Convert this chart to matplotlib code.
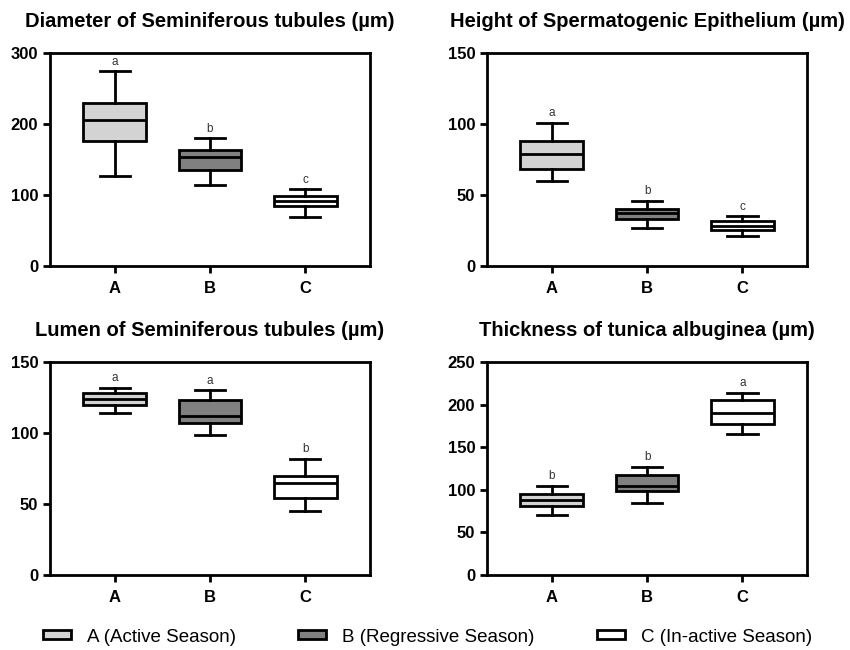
import matplotlib.pyplot as plt
from matplotlib.patches import Patch

plt.rcParams['font.family'] = ['Liberation Sans', 'DejaVu Sans']

groups = ['A', 'B', 'C']
fills = ['#d3d3d3', '#808080', '#ffffff']
legend_labels = ['A (Active Season)', 'B (Regressive Season)', 'C (In-active Season)']

titles = ['Diameter of Seminiferous tubules (µm)',
          'Height of Spermatogenic Epithelium (µm)',
          'Lumen of Seminiferous tubules (µm)',
          'Thickness of tunica albuginea (µm)']
ymax = [300, 150, 150, 250]
ystep = [100, 50, 50, 50]

# whisker low, Q1, median, Q3, whisker high  for A, B, C
diameter = [[127, 176, 206, 230, 274], [114, 135, 153, 163, 180], [69, 84, 91, 98, 108]]
height = [[60, 68, 79, 88, 101], [27, 33, 37, 40, 46], [21, 25, 28.5, 32, 35]]
lumen = [[114, 120, 124, 128, 132], [98.5, 107, 112, 123, 130], [45, 54.5, 65, 70, 82]]
tunica = [[70, 81, 88, 95, 105], [85, 98, 105, 117, 127], [165, 177, 190, 205, 214]]
letters = [['a', 'b', 'c'], ['a', 'b', 'c'], ['a', 'a', 'b'], ['b', 'b', 'a']]

panels = [diameter, height, lumen, tunica]
positions = [[0.0588, 0.5908], [0.573, 0.5908], [0.0588, 0.1154], [0.573, 0.1154]]

fig = plt.figure(figsize=(8.5, 6.5), dpi=100)

for k in range(4):
    ax = fig.add_axes([positions[k][0], positions[k][1], 0.3765, 0.3277])
    stats = []
    for g, v in zip(groups, panels[k]):
        stats.append({'label': g, 'whislo': v[0], 'q1': v[1], 'med': v[2],
                      'q3': v[3], 'whishi': v[4], 'fliers': []})
    bp = ax.bxp(stats, positions=[0, 1, 2], widths=0.66, capwidths=0.32,
                patch_artist=True, showfliers=False,
                boxprops=dict(linewidth=2, edgecolor='black'),
                medianprops=dict(linewidth=2, color='black'),
                whiskerprops=dict(linewidth=2, color='black'),
                capprops=dict(linewidth=2, color='black'))
    for patch, c in zip(bp['boxes'], fills):
        patch.set_facecolor(c)
    for i, v in enumerate(panels[k]):
        ax.text(i, v[4] + 0.045 * ymax[k], letters[k][i], ha='center', va='center',
                fontsize=8.5, color='#333333')
    ax.set_xlim(-0.68, 2.68)
    ax.set_ylim(0, ymax[k])
    ax.set_yticks(range(0, ymax[k] + 1, ystep[k]))
    ax.set_title(titles[k], fontsize=14.5, fontweight='bold', pad=19)
    for s in ax.spines.values():
        s.set_linewidth(2)
    ax.tick_params(axis='both', width=2, length=5, labelsize=12)
    ax.tick_params(axis='x', pad=6)
    for lab in ax.get_xticklabels() + ax.get_yticklabels():
        lab.set_fontweight('bold')

# one legend per entry, spread across the bottom like the original
legend_x = [0.0506, 0.3506, 0.7024]
for c, lab, lx in zip(fills, legend_labels, legend_x):
    h = Patch(facecolor=c, edgecolor='black', linewidth=2)
    fig.legend([h], [lab], loc='center left', bbox_to_anchor=(lx, 0.02),
               frameon=False, handlelength=1.5, handleheight=0.37,
               handletextpad=0.85, borderpad=0, borderaxespad=0,
               prop={'size': 13.5})

fig.savefig('out.png', dpi=100)
